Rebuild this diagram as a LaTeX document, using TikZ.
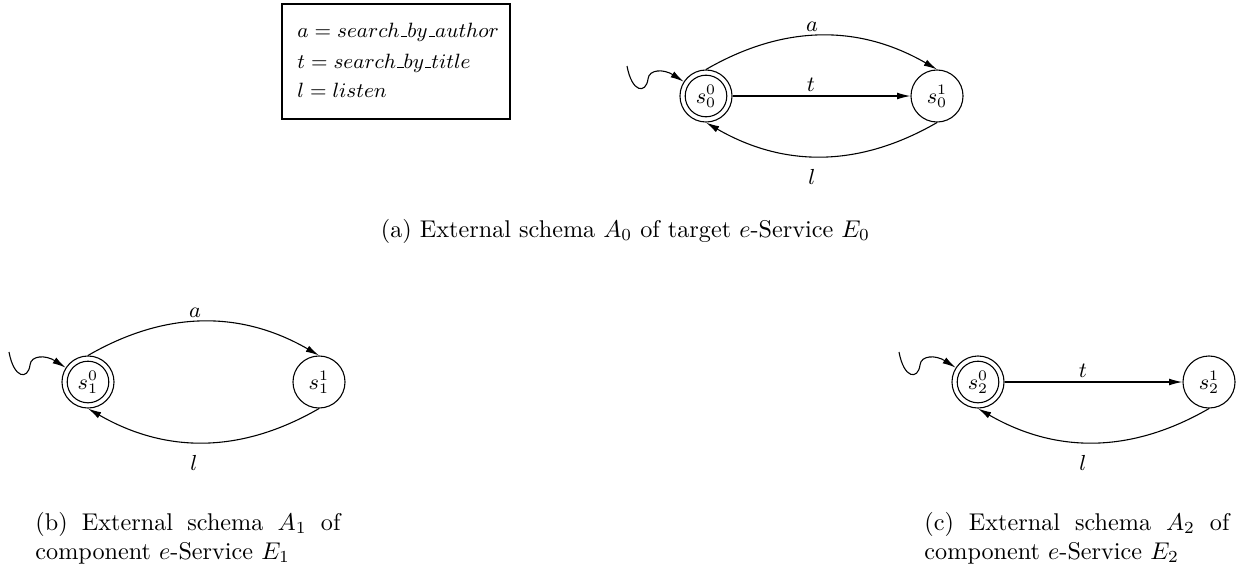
\documentclass[tikz,border=0pt]{standalone}
\usepackage{graphicx}
\usetikzlibrary{arrows.meta}
\tikzset{
  state/.style={circle, draw, line width=0.45pt, minimum size=21.5pt, inner sep=0pt, font=\small},
  edge/.style={line width=0.45pt, -{Latex[length=5.5pt,width=2.8pt]}},
  lbl/.style={inner sep=0pt, font=\small},
  legtext/.style={inner sep=0pt, anchor=base west, font=\small},
  captext/.style={inner sep=0pt, anchor=base west},
}
\newcommand{\us}{\mbox{\kern.06em\vbox{\hrule width.3em}}}
\newcommand{\legline}[1]{\scalebox{0.95}{#1}}
\newcommand{\acceptring}[1]{\draw[line width=0.45pt] (#1.center) circle (8.6pt);}
\newcommand{\initarrow}[1]{%
  \coordinate (#1-i) at ([shift={(-79,30)}]#1.center);
  \draw[edge] (#1-i) .. controls ([shift={(-74,3)}]#1.center) and ([shift={(-60,2)}]#1.center) .. ([shift={(-58,17)}]#1.center)
     .. controls ([shift={(-57,27)}]#1.center) and ([shift={(-42,27)}]#1.center) .. (#1);}
\begin{document}
\begin{tikzpicture}[x=0.4132pt, y=0.4132pt]
\useasboundingbox (0,0) rectangle (1250,567);

% legend
\node[draw, line width=0.5pt, minimum width=94.2pt, minimum height=47.5pt, inner sep=0pt] (legend) at (396,505.5) {};
\node[legtext] (la) at (297,530) {\legline{$a = search\us by\us author$}};
\node[legtext] (lt) at (297,499) {\legline{$t = search\us by\us title$}};
\node[legtext] (ll) at (297,470) {\legline{$l = listen$}};

% (a) target
\node[state] (q00) at (706,471) {$s_0^0$};
\node[state] (q01) at (937,471) {$s_0^1$};
\acceptring{q00}
\initarrow{q00}
\draw[edge] (q00.north) to[out=30,in=150] (q01.north);
\draw[edge] (q00) -- (q01);
\draw[edge] (q01.south) to[out=210,in=-30] (q00.south);
\node[lbl] (ea0) at (812,540) {$a$};
\node[lbl] (et0) at (811,482) {$t$};
\node[lbl] (el0) at (812,390) {$l$};
\node[inner sep=0pt, anchor=base] (capa) at (625.5,330) {(a) External schema $A_0$ of target $e$-Service $E_0$};

% (b) component 1
\node[state] (q10) at (88,185) {$s_1^0$};
\node[state] (q11) at (319,185) {$s_1^1$};
\acceptring{q10}
\initarrow{q10}
\draw[edge] (q10.north) to[out=30,in=150] (q11.north);
\draw[edge] (q11.south) to[out=210,in=-30] (q10.south);
\node[lbl] (ea1) at (195,254.5) {$a$};
\node[lbl] (el1) at (194,104) {$l$};
\node[captext] (capb) at (35,37) {\parbox[t]{126pt}{(b) External schema $A_1$ of component $e$-Service $E_1$}};

% (c) component 2
\node[state] (q20) at (978,185) {$s_2^0$};
\node[state] (q21) at (1209,185) {$s_2^1$};
\acceptring{q20}
\initarrow{q20}
\draw[edge] (q20) -- (q21);
\draw[edge] (q21.south) to[out=210,in=-30] (q20.south);
\node[lbl] (et2) at (1083,196) {$t$};
\node[lbl] (el2) at (1083,104) {$l$};
\node[captext] (capc) at (924,37) {\parbox[t]{126pt}{(c) External schema $A_2$ of component $e$-Service $E_2$}};
\end{tikzpicture}
\end{document}
